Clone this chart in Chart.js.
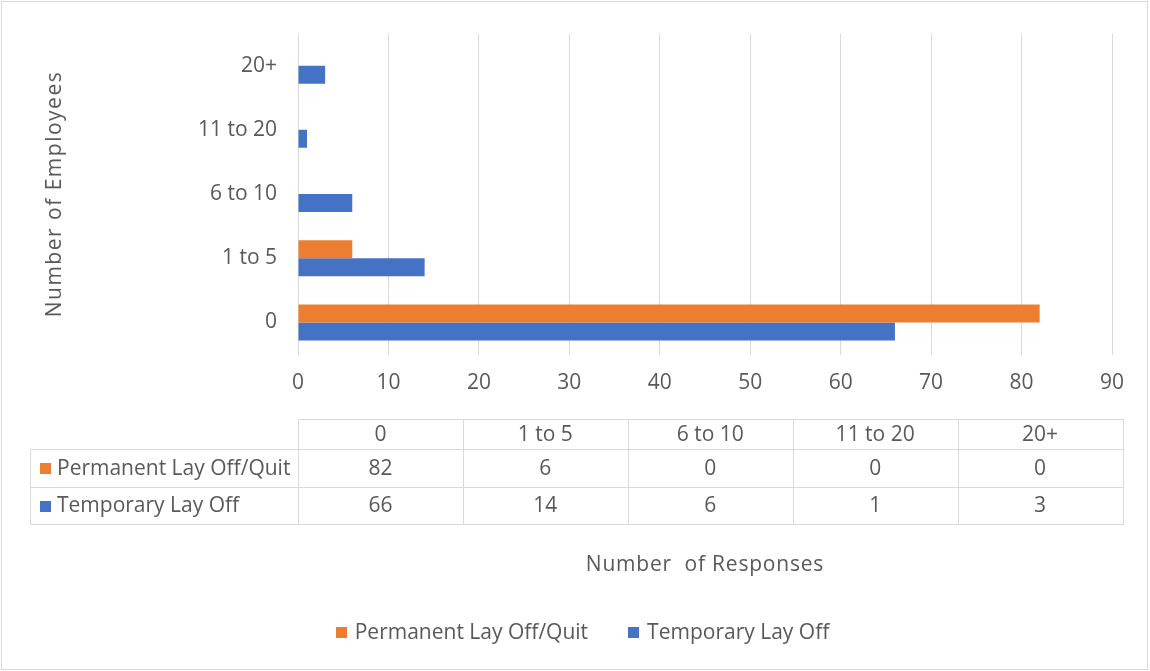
<!DOCTYPE html>
<html><head><meta charset="utf-8">
<script src="https://cdn.jsdelivr.net/npm/chart.js"></script>
<style>
html,body{margin:0;padding:0;background:#fff;}
#wrap{position:relative;width:1150px;height:671px;overflow:hidden;}
#frame{position:absolute;left:1px;top:1px;width:1147px;height:669px;border:1px solid #d9d9d9;box-sizing:border-box;pointer-events:none;}
canvas{position:absolute;left:0;top:0;}
</style></head><body>
<div id="wrap"><canvas id="c" width="1150" height="671"></canvas><div id="frame"></div></div>
<script>
const categories = ['0', '1 to 5', '6 to 10', '11 to 20', '20+'];
const permanentValues = [82, 6, 0, 0, 0];
const temporaryValues = [66, 14, 6, 1, 3];
const seriesNames = ['Permanent Lay Off/Quit', 'Temporary Lay Off'];
const seriesColors = ['#ED7D31', '#4472C4'];
const xMin = 0, xMax = 90, xStep = 10;
const xTitle = 'Number  of Responses';
const yTitle = 'Number of Employees';

const FONT = "'Open Sans', sans-serif";
const FSIZE = 21;
const TXT = '#595959';
const LINE = '#d9d9d9';

Chart.defaults.font.family = FONT;
Chart.defaults.font.size = FSIZE;
Chart.defaults.color = TXT;

function spacedTitle(scale, spacing) {
  if (scale._spacedTitle) return;
  scale._spacedTitle = true;
  const orig = scale.drawTitle;
  scale.drawTitle = function () {
    const ctx = this.ctx;
    ctx.save();
    if ('letterSpacing' in ctx) ctx.letterSpacing = spacing;
    orig.apply(this, arguments);
    ctx.restore();
  };
}

const tablePlugin = {
  id: 'dataTable',
  afterDraw(chart) {
    const ctx = chart.ctx;
    const ca = chart.chartArea;
    const labelLeft = chart.options.layout.padding.left;
    const left = ca.left;
    const right = ca.right + 10.5;
    const colW = (right - left) / categories.length;
    const yTop = ca.bottom + 64.5;
    const yR1 = yTop + 30;
    const yR2 = yR1 + 38;
    const yBot = yR2 + 37;
    const px = v => Math.round(v) + 0.5;
    ctx.save();
    ctx.strokeStyle = LINE;
    ctx.lineWidth = 1;
    ctx.beginPath();
    ctx.moveTo(px(left), px(yTop)); ctx.lineTo(px(right), px(yTop));
    [yR1, yR2, yBot].forEach(y => { ctx.moveTo(px(labelLeft), px(y)); ctx.lineTo(px(right), px(y)); });
    ctx.moveTo(px(labelLeft), px(yR1)); ctx.lineTo(px(labelLeft), px(yBot));
    for (let i = 0; i <= categories.length; i++) {
      const x = left + i * colW;
      ctx.moveTo(px(x), px(yTop)); ctx.lineTo(px(x), px(yBot));
    }
    ctx.stroke();
    ctx.fillStyle = TXT;
    ctx.font = FSIZE + 'px ' + FONT;
    ctx.textBaseline = 'middle';
    ctx.textAlign = 'center';
    const rows = [permanentValues, temporaryValues];
    const rowMids = [(yR1 + yR2) / 2, (yR2 + yBot) / 2];
    categories.forEach((c, i) => {
      const cx = left + (i + 0.5) * colW;
      ctx.fillText(c, cx, (yTop + yR1) / 2 + 1);
      rows.forEach((r, j) => ctx.fillText(String(r[i]), cx, rowMids[j] + 1));
    });
    ctx.textAlign = 'left';
    chart.data.datasets.forEach((ds, j) => {
      ctx.fillStyle = ds.backgroundColor;
      ctx.fillRect(labelLeft + 10, Math.round(rowMids[j] - 5), 11, 11);
      ctx.fillStyle = TXT;
      ctx.fillText(ds.label, labelLeft + 27, rowMids[j] + 1);
    });
    ctx.restore();
  }
};

const legendPlugin = {
  id: 'bottomLegend',
  afterDraw(chart) {
    const ctx = chart.ctx;
    ctx.save();
    ctx.font = FSIZE + 'px ' + FONT;
    ctx.textBaseline = 'middle';
    ctx.textAlign = 'left';
    const items = chart.data.datasets.map(ds => ({ text: ds.label, color: ds.backgroundColor, w: ctx.measureText(ds.label).width }));
    const box = 11, gap = 8, spacing = 40;
    const total = items.reduce((s, it) => s + box + gap + it.w, 0) + spacing * (items.length - 1);
    let x = 582.5 - total / 2;
    const y = 632;
    items.forEach(it => {
      ctx.fillStyle = it.color;
      ctx.fillRect(Math.round(x), Math.round(y - 5.5), box, box);
      ctx.fillStyle = TXT;
      ctx.fillText(it.text, x + box + gap, y + 1);
      x += box + gap + it.w + spacing;
    });
    ctx.restore();
  }
};

new Chart(document.getElementById('c'), {
  type: 'bar',
  data: {
    labels: categories,
    datasets: [
      { label: seriesNames[0], data: permanentValues, backgroundColor: seriesColors[0], borderWidth: 0 },
      { label: seriesNames[1], data: temporaryValues, backgroundColor: seriesColors[1], borderWidth: 0 }
    ]
  },
  options: {
    indexAxis: 'y',
    responsive: false,
    animation: false,
    devicePixelRatio: 1,
    events: [],
    layout: { padding: { left: 30, right: 38, top: 29.5, bottom: 0 } },
    datasets: { bar: { categoryPercentage: 0.56, barPercentage: 1 } },
    plugins: { legend: { display: false }, tooltip: { enabled: false }, title: { display: false } },
    scales: {
      x: {
        type: 'linear',
        min: xMin, max: xMax,
        ticks: { stepSize: xStep, padding: 16, color: TXT, font: { size: FSIZE } },
        grid: { color: LINE, lineWidth: 1, drawTicks: false },
        border: { display: false },
        title: { display: true, text: xTitle, color: TXT, font: { size: FSIZE }, padding: { top: 0, bottom: 93 } },
        afterFit(scale) { scale.height = 671 - 354.5; spacedTitle(scale, '0.8px'); }
      },
      y: {
        type: 'category',
        reverse: true,
        ticks: { padding: 21, color: TXT, font: { size: FSIZE } },
        grid: { display: false, drawTicks: false },
        border: { display: false },
        title: { display: true, text: yTitle, color: TXT, font: { size: FSIZE }, padding: { top: 12, bottom: 0 } },
        afterFit(scale) { scale.width = 268; spacedTitle(scale, '1.5px'); }
      }
    }
  },
  plugins: [tablePlugin, legendPlugin]
});
</script>
</body></html>
